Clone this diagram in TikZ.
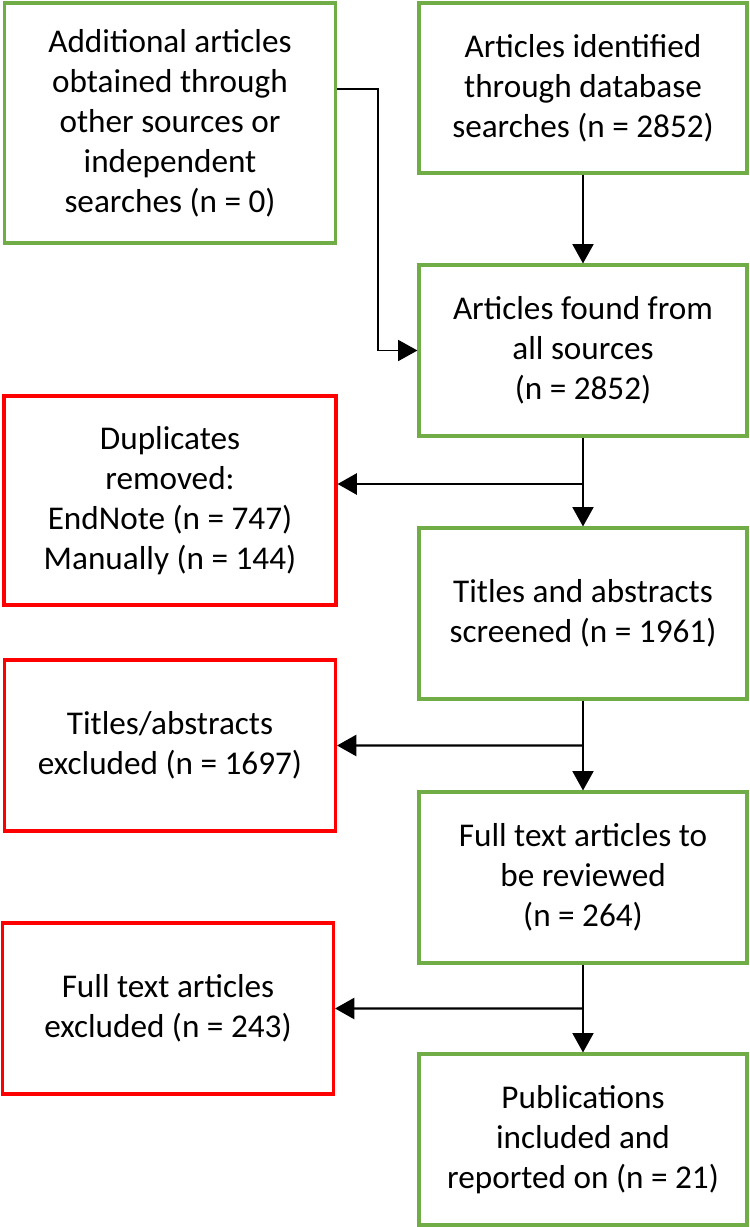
\documentclass[tikz,border=0pt]{standalone}
\usepackage{fontspec}
\setmainfont{Carlito}
\usetikzlibrary{arrows.meta,calc}
\definecolor{boxgreen}{RGB}{112,173,71}
\definecolor{boxred}{RGB}{255,0,0}

\begin{document}
\begin{tikzpicture}[x=0.02cm, y=-0.02cm, >={Triangle[length=11pt,width=12pt]},
    greenbox/.style={draw=boxgreen, line width=1.8pt, align=center, inner sep=0pt,
        font=\fontsize{18.9}{22.8}\selectfont},
    redbox/.style={greenbox, draw=boxred},
    flow/.style={->, line width=0.85pt},
    side/.style={->, line width=1.4pt}]
    \useasboundingbox (0,0) rectangle (750,1227);

    % Identification
    \node[greenbox, minimum width=6.62cm, minimum height=4.8cm] (other) at (170,123)
        {Additional articles\\obtained through\\other sources or\\independent\\searches (n = 0)};
    \node[greenbox, minimum width=6.56cm, minimum height=3.4cm] (database) at (583,88)
        {Articles identified\\through database\\searches (n = 2852)};
    \node[greenbox, minimum width=6.56cm, minimum height=3.42cm] (found) at (583,350.5)
        {Articles found from\\all sources\\(n = 2852)};

    % Screening
    \node[redbox, minimum width=6.64cm, minimum height=4.18cm] (dupl) at (170,500.5)
        {Duplicates\\removed:\\EndNote (n = 747)\\Manually (n = 144)};
    \node[greenbox, minimum width=6.56cm, minimum height=3.42cm] (screened) at (583,613.5)
        {Titles and abstracts\\screened (n = 1961)};
    \node[redbox, minimum width=6.62cm, minimum height=3.42cm] (taexcl) at (170,745.5)
        {Titles/abstracts\\excluded (n = 1697)};

    % Eligibility and inclusion
    \node[greenbox, minimum width=6.56cm, minimum height=3.42cm] (fulltext) at (583,877.5)
        {Full text articles to\\be reviewed\\(n = 264)};
    \node[redbox, minimum width=6.62cm, minimum height=3.42cm] (ftexcl) at (168,1008.5)
        {Full text articles\\excluded (n = 243)};
    \node[greenbox, minimum width=6.56cm, minimum height=3.42cm] (included) at (583,1139.5)
        {Publications\\included and\\reported on (n = 21)};

    % Main flow
    \coordinate (jog) at (378,89);
    \draw[flow] (other.east |- jog) -- (jog) |- (found.west);
    \draw[flow] (database) -- (found);
    \draw[flow] (found) -- (screened);
    \draw[flow] (screened) -- (fulltext);
    \draw[flow] (fulltext) -- (included);

    % Exclusions
    \coordinate (split1) at (583,484);
    \coordinate (split2) at ($(screened.south)!0.5!(fulltext.north)$);
    \coordinate (split3) at ($(fulltext.south)!0.5!(included.north)$);
    \draw[side] (split1) -- (split1 -| dupl.east);
    \draw[side] (split2) -- (taexcl.east);
    \draw[side] (split3) -- (ftexcl.east);
\end{tikzpicture}
\end{document}
